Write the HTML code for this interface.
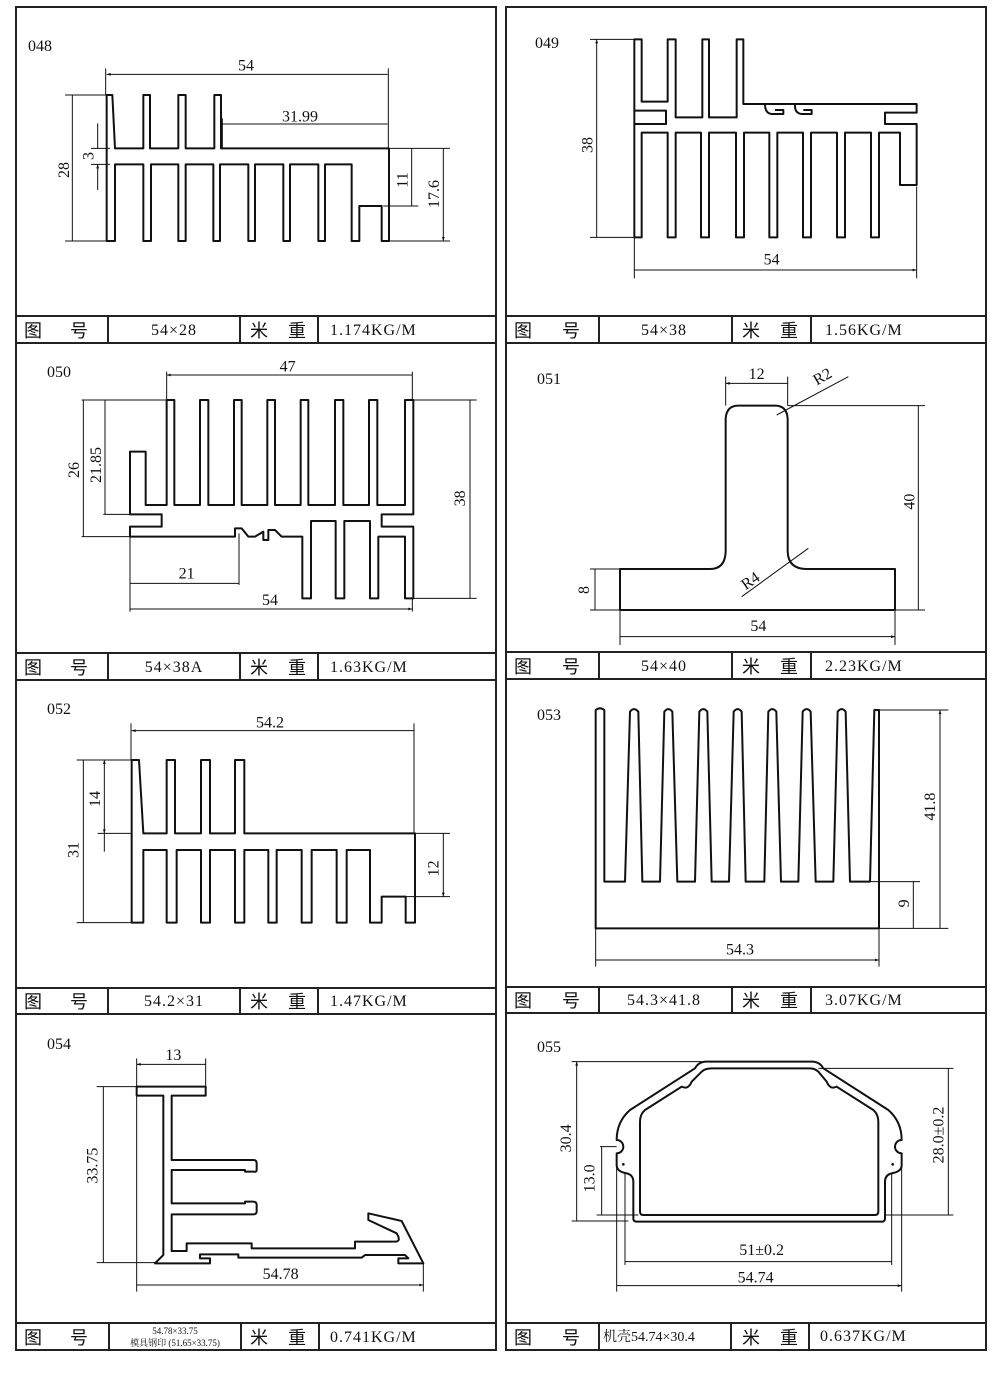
<!DOCTYPE html>
<html><head><meta charset="utf-8"><style>
html,body{margin:0;padding:0;background:#fff;}
svg{display:block;}
.t{font-family:"Liberation Serif","Noto Serif CJK SC",serif;fill:#111;}
.c{font-family:"Liberation Sans","Noto Sans CJK SC",sans-serif;fill:#111;}
</style></head><body>
<svg width="1000" height="1377" viewBox="0 0 1000 1377" xmlns="http://www.w3.org/2000/svg">
<defs>
<marker id="a" viewBox="0 0 10 10" refX="10" refY="5" markerWidth="8" markerHeight="4" markerUnits="strokeWidth" orient="auto-start-reverse"><path d="M0,1.5 L10,5 L0,8.5 Z" fill="#111"/></marker>
</defs>
<rect width="1000" height="1377" fill="#fff"/>
<!-- frames -->
<g stroke="#222" stroke-width="2" fill="none">
<rect x="16" y="7" width="480" height="1343"/>
<rect x="506" y="7" width="480" height="1343"/>
<path d="M16,316H496M16,343H496M16,653H496M16,680H496M16,988H496M16,1014H496M16,1323H496"/>
<path d="M506,316H986M506,343H986M506,652H986M506,679H986M506,987H986M506,1013H986M506,1323H986"/>
<path d="M108,316V343M240,316V343M318,316V343M108,653V680M240,653V680M318,653V680M108,988V1014M240,988V1014M318,988V1014M109,1323V1350M241,1323V1350M319,1323V1350"/>
<path d="M599,316V343M732,316V343M811,316V343M599,652V679M732,652V679M811,652V679M599,987V1013M732,987V1013M811,987V1013M599,1323V1350M731,1323V1350M809,1323V1350"/>
</g>
<!-- table texts -->
<g class="c" font-size="18">
<text x="24" y="337">图</text><text x="70" y="337">号</text><text x="250" y="337">米</text><text x="288" y="337">重</text>
<text x="24" y="674">图</text><text x="70" y="674">号</text><text x="250" y="674">米</text><text x="288" y="674">重</text>
<text x="24" y="1008">图</text><text x="70" y="1008">号</text><text x="250" y="1008">米</text><text x="288" y="1008">重</text>
<text x="24" y="1344">图</text><text x="70" y="1344">号</text><text x="250" y="1344">米</text><text x="288" y="1344">重</text>
<text x="514" y="337">图</text><text x="562" y="337">号</text><text x="742" y="337">米</text><text x="780" y="337">重</text>
<text x="514" y="673">图</text><text x="562" y="673">号</text><text x="742" y="673">米</text><text x="780" y="673">重</text>
<text x="514" y="1007">图</text><text x="562" y="1007">号</text><text x="742" y="1007">米</text><text x="780" y="1007">重</text>
<text x="514" y="1344">图</text><text x="562" y="1344">号</text><text x="742" y="1344">米</text><text x="780" y="1344">重</text>
</g>
<g class="t" font-size="16" letter-spacing="1">
<text x="174" y="335" text-anchor="middle">54×28</text><text x="330" y="335">1.174KG/M</text>
<text x="174" y="672" text-anchor="middle">54×38A</text><text x="330" y="672">1.63KG/M</text>
<text x="174" y="1006" text-anchor="middle">54.2×31</text><text x="330" y="1006">1.47KG/M</text>
<text x="330" y="1342">0.741KG/M</text>
<text x="664" y="335" text-anchor="middle">54×38</text><text x="825" y="335">1.56KG/M</text>
<text x="664" y="671" text-anchor="middle">54×40</text><text x="825" y="671">2.23KG/M</text>
<text x="664" y="1005" text-anchor="middle">54.3×41.8</text><text x="825" y="1005">3.07KG/M</text>
<text x="603" y="1341" font-size="14" letter-spacing="0">机壳54.74×30.4</text><text x="820" y="1341">0.637KG/M</text>
</g>
<text class="t" x="175" y="1334" font-size="9" text-anchor="middle">54.78×33.75</text>
<text class="t" x="175" y="1346" font-size="9" text-anchor="middle">模具钢印 (51.65×33.75)</text>
<!-- panel numbers -->
<g class="t" font-size="16">
<text x="28" y="51">048</text><text x="535" y="48">049</text>
<text x="47" y="377">050</text><text x="537" y="384">051</text>
<text x="47" y="714">052</text><text x="537" y="720">053</text>
<text x="47" y="1049">054</text><text x="537" y="1052">055</text>
</g>

<!-- 048 -->
<g transform="translate(15,40) scale(0.33333)">
<path fill="none" stroke="#111" stroke-width="6" stroke-linejoin="round" d="M275,603 V165 H292 L300,325 H385 V165 H405 V325 H490 V165 H512 V325 H598 V165 H618 V325 H1122 V603 H1100 V498 H1033 V603 H1010 V373 H930 V603 H910 V373 H825 V603 H805 V373 H720 V603 H700 V373 H615 V603 H595 V373 H512 V603 H490 V373 H408 V603 H385 V373 H300 V603 Z"/>
<g stroke="#111" stroke-width="3" fill="none">
<path d="M272,85V165M1120,85V325M622,235V325M150,165H280M150,603H280M228,325H285M228,373H285M1125,325H1305M1105,498H1210M1122,603H1305"/>
<path d="M275,103H1118M622,252H1118M172,165V603M1190,325V498M1285,325V603" marker-start="url(#a)" marker-end="url(#a)"/>
<path d="M248,250V325M248,450V373" marker-end="url(#a)"/>
</g>
<g class="t" font-size="48">
<text x="693" y="92" text-anchor="middle">54</text>
<text x="855" y="245" text-anchor="middle">31.99</text>
<text transform="translate(162,390) rotate(-90)" text-anchor="middle">28</text>
<text transform="translate(236,348) rotate(-90)" text-anchor="middle">3</text>
<text transform="translate(1178,420) rotate(-90)" text-anchor="middle">11</text>
<text transform="translate(1272,462) rotate(-90)" text-anchor="middle">17.6</text>
</g>
</g>

<!-- 049 -->
<g transform="translate(505,30) scale(0.33333)">
<g fill="none" stroke="#111" stroke-width="6" stroke-linejoin="round">
<path d="M388,622 V28 H410 V215 H488 V28 H512 V262 H592 V28 H612 V262 H695 V28 H715 V222 H1235 V248 H1140 V282 H1235 V465 H1185 V308 H1122 V622 H1098 V308 H1020 V622 H996 V308 H918 V622 H894 V308 H817 V622 H793 V308 H717 V622 H693 V308 H612 V622 H588 V308 H512 V622 H488 V308 H410 V622 Z"/>
<path d="M388,242 H483 V282 H388"/>
<path d="M780,222 Q780,250 800,252 H835 V240 H810 M870,222 Q868,250 890,252 H920 V240 H895"/>
</g>
<g stroke="#111" stroke-width="3" fill="none">
<path d="M255,28H388M255,622H388M388,622V745M1235,470V745"/>
<path d="M275,28V622M388,720H1235" marker-start="url(#a)" marker-end="url(#a)"/>
</g>
<g class="t" font-size="48">
<text transform="translate(262,345) rotate(-90)" text-anchor="middle">38</text>
<text x="800" y="703" text-anchor="middle">54</text>
</g>
</g>

<!-- 050 -->
<g transform="translate(15,355) scale(0.33333)">
<path fill="none" stroke="#111" stroke-width="6" stroke-linejoin="round" d="M455,450 V135 H478 V450 H555 V135 H580 V450 H657 V135 H680 V450 H757 V135 H780 V450 H857 V135 H880 V450 H960 V135 H985 V450 H1062 V135 H1087 V450 H1170 V135 H1195 V478 H1100 V515 H1195 V730 H1170 V545 H1090 V730 H1065 V498 H988 V730 H962 V498 H888 V730 H862 V545 H800 L780,525 H760 V555 H745 V530 L720,545 H700 L680,520 H660 V545 H345 V515 H440 V478 H345 V290 H392 V450 Z"/>
<g stroke="#111" stroke-width="3" fill="none">
<path d="M455,50V135M1192,50V135M200,135H455M200,545H345M265,478H345M1195,135H1385M1195,730H1385M672,535V690M345,545V770M1192,730V770"/>
<path d="M455,60H1192M205,135V545M270,135V478M1365,135V730M345,685H672M345,762H1192" marker-start="url(#a)" marker-end="url(#a)"/>
</g>
<g class="t" font-size="48">
<text x="818" y="50" text-anchor="middle">47</text>
<text transform="translate(192,345) rotate(-90)" text-anchor="middle">26</text>
<text transform="translate(258,330) rotate(-90)" text-anchor="middle">21.85</text>
<text transform="translate(1350,430) rotate(-90)" text-anchor="middle">38</text>
<text x="515" y="670" text-anchor="middle">21</text>
<text x="765" y="750" text-anchor="middle">54</text>
</g>
</g>

<!-- 051 -->
<g transform="translate(505,355) scale(0.33333)">
<path fill="none" stroke="#111" stroke-width="6" stroke-linejoin="round" d="M345,765 V642 H615 Q660,642 662,590 V190 Q665,152 700,152 H810 Q845,152 848,190 V590 Q850,642 905,642 H1170 V765 Z"/>
<g stroke="#111" stroke-width="3" fill="none">
<path d="M662,65V152M848,65V152M848,152H1260M255,765H1260M255,642H345M345,765V870M1170,765V870M815,180L1030,65M710,725L910,580"/>
<path d="M662,85H848M1240,152V765M270,642V765M345,845H1170" marker-start="url(#a)" marker-end="url(#a)"/>
</g>
<g class="t" font-size="48">
<text x="755" y="72" text-anchor="middle">12</text>
<text transform="translate(960,78) rotate(-30)" text-anchor="middle">R2</text>
<text transform="translate(1228,440) rotate(-90)" text-anchor="middle">40</text>
<text transform="translate(252,705) rotate(-90)" text-anchor="middle">8</text>
<text transform="translate(745,690) rotate(-35)" text-anchor="middle">R4</text>
<text x="760" y="828" text-anchor="middle">54</text>
</g>
</g>

<!-- 052 -->
<g transform="translate(15,695) scale(0.33333)">
<path fill="none" stroke="#111" stroke-width="6" stroke-linejoin="round" d="M350,683 V195 H372 L385,415 H455 V195 H480 V415 H558 V195 H585 V415 H660 V195 H688 V415 H1200 V683 H1172 V605 H1100 V683 H1065 V465 H995 V683 H965 V465 H890 V683 H860 V465 H785 V683 H760 V465 H688 V683 H660 V465 H585 V683 H558 V465 H485 V683 H455 V465 H385 V683 Z"/>
<g stroke="#111" stroke-width="3" fill="none">
<path d="M348,85V195M1197,85V415M185,195H350M185,683H350M248,415H350M1200,415H1305M1100,605H1305"/>
<path d="M350,107H1197M205,195V683M1285,415V605" marker-start="url(#a)" marker-end="url(#a)"/>
<path d="M268,195V415" marker-start="url(#a)" marker-end="url(#a)"/><path d="M268,415V470"/>
</g>
<g class="t" font-size="48">
<text x="765" y="97" text-anchor="middle">54.2</text>
<text transform="translate(190,465) rotate(-90)" text-anchor="middle">31</text>
<text transform="translate(255,312) rotate(-90)" text-anchor="middle">14</text>
<text transform="translate(1270,520) rotate(-90)" text-anchor="middle">12</text>
</g>
</g>

<!-- 053 -->
<g transform="translate(505,690) scale(0.33333)">
<path fill="none" stroke="#111" stroke-width="6" stroke-linejoin="round" d="M272,715 V60 Q285,50 298,60 L298,575 H360 L375,65 Q387,50 400,65 L412,575 H465 L478,65 Q490,50 502,65 L517,575 H570 L583,65 Q595,50 607,65 L620,575 H672 L686,65 Q698,50 710,65 L722,575 H778 L790,65 Q802,50 814,65 L828,575 H880 L893,65 Q905,50 917,65 L932,575 H985 L998,65 Q1010,50 1022,65 L1035,575 H1095 L1108,60 H1122 V715 Z"/>
<g stroke="#111" stroke-width="3" fill="none">
<path d="M1122,60H1330M1122,715H1330M1095,575H1245M272,715V830M1122,715V830"/>
<path d="M1305,60V715M1225,575V715M272,810H1122" marker-start="url(#a)" marker-end="url(#a)"/>
</g>
<g class="t" font-size="48">
<text transform="translate(1290,350) rotate(-90)" text-anchor="middle">41.8</text>
<text transform="translate(1212,640) rotate(-90)" text-anchor="middle">9</text>
<text x="705" y="793" text-anchor="middle">54.3</text>
</g>
</g>

<!-- 054 -->
<g transform="translate(15,1025) scale(0.33333)">
<path fill="none" stroke="#111" stroke-width="6" stroke-linejoin="round" d="M365,185 H572 V212 H470 V405 H715 Q725,405 725,415 V435 Q725,442 715,440 H690 V435 H470 V535 H690 V530 H715 Q725,530 725,540 V560 Q725,568 715,568 H470 V678 H515 V655 H710 V670 H1020 V650 H1140 Q1160,650 1145,625 L1060,585 V565 L1160,588 L1225,715 H1150 V700 H1180 L1170,690 H1050 L1040,698 H670 V688 H555 V700 H585 V715 H420 L445,690 V212 H365 Z"/>
<g stroke="#111" stroke-width="3" fill="none">
<path d="M365,100V800M572,100V185M245,185H365M245,713H420M1225,715V800"/>
<path d="M365,118H572M265,185V713M365,780H1225" marker-start="url(#a)" marker-end="url(#a)"/>
</g>
<g class="t" font-size="48">
<text x="475" y="105" text-anchor="middle">13</text>
<text transform="translate(248,422) rotate(-90)" text-anchor="middle">33.75</text>
<text x="797" y="762" text-anchor="middle">54.78</text>
</g>
</g>

<!-- 055 -->
<g transform="translate(505,1025) scale(0.33333)">
<g fill="none" stroke="#111" stroke-width="6" stroke-linejoin="round">
<path d="M600,110 H925 Q945,112 955,130 L1150,255 Q1190,290 1190,345 A18,18 0 1 0 1190,385 V420 Q1190,440 1160,445 Q1140,450 1140,470 V580 Q1140,590 1130,590 H395 Q385,590 385,580 V470 Q385,450 365,445 Q335,440 335,420 V385 A18,18 0 1 0 335,345 Q335,290 375,255 L570,130 Q580,112 600,110 Z"/>
<path d="M420,255 L530,185 Q550,195 560,170 L590,140 Q600,130 620,130 H915 Q930,130 940,140 L965,170 Q975,195 995,185 L1105,255 Q1120,268 1120,290 V560 Q1120,570 1110,570 H415 Q405,570 405,560 V290 Q405,268 420,255 Z"/>
</g>
<circle cx="355" cy="418" r="4" fill="#111"/><circle cx="1163" cy="418" r="4" fill="#111"/>
<g stroke="#111" stroke-width="3" fill="none">
<path d="M200,110H600M200,588H370M285,365H335M275,570H400M940,130H1345M1140,570H1345M360,445V720M1160,445V720M335,420V800M1190,420V800"/>
<path d="M215,110V588M290,365V570M1330,130V570M360,710H1160M335,782H1190" marker-start="url(#a)" marker-end="url(#a)"/>
</g>
<g class="t" font-size="48">
<text transform="translate(198,340) rotate(-90)" text-anchor="middle">30.4</text>
<text transform="translate(268,460) rotate(-90)" text-anchor="middle">13.0</text>
<text transform="translate(1315,330) rotate(-90)" text-anchor="middle">28.0±0.2</text>
<text x="770" y="690" text-anchor="middle">51±0.2</text>
<text x="752" y="772" text-anchor="middle">54.74</text>
</g>
</g>
</svg>
</body></html>
